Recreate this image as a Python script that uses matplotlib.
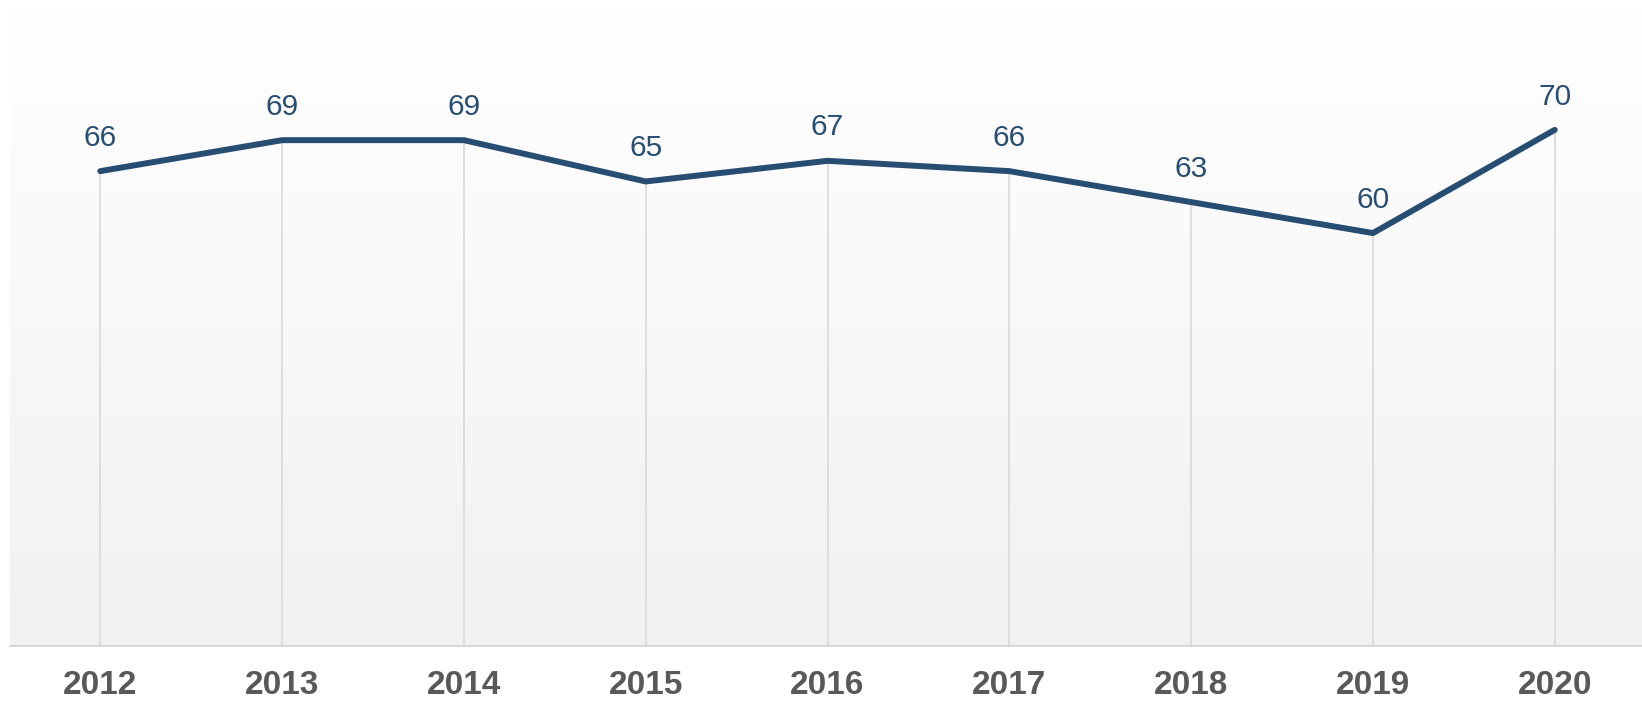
import matplotlib
matplotlib.use("Agg")
import matplotlib.pyplot as plt
import numpy as np
from matplotlib.colors import LinearSegmentedColormap

years = ["2012", "2013", "2014", "2015", "2016", "2017", "2018", "2019", "2020"]
values = [66, 69, 69, 65, 67, 66, 63, 60, 70]

plt.rcParams['font.family'] = ['Liberation Sans', 'DejaVu Sans']

fig = plt.figure(figsize=(16.42, 7.01), dpi=100)
ax = fig.add_axes([10/1642, 55/701, 1 - 10/1642, (646-7)/701])

x = np.arange(len(years))
ax.set_xlim(-0.497, 8.48)
ax.set_ylim(20, 81.9)

# gradient background
grad = np.linspace(0, 1, 256).reshape(-1, 1)
cmap = LinearSegmentedColormap.from_list("bg", ["#f1f1f1", "#f8f8f8", "#ffffff"])
ax.imshow(grad, extent=[0, 1, 0, 1], transform=ax.transAxes, aspect='auto',
          cmap=cmap, origin='lower', zorder=0)

ax.vlines(x, 20, values, colors="#d9d9d9", linewidth=1.2, zorder=1)
ax.plot(x, values, color="#284d73", linewidth=4.3, solid_capstyle='round',
        solid_joinstyle='round', zorder=3)

for xi, v in zip(x, values):
    ax.annotate(str(v), (xi, v), xytext=(0, 24), textcoords='offset points',
                ha='center', va='center', fontsize=21.5, color="#284d73")

for s in ['top', 'left', 'right']:
    ax.spines[s].set_visible(False)
ax.spines['bottom'].set_color('#d0d0d0')
ax.spines['bottom'].set_linewidth(1.2)

ax.set_xticks(x)
ax.set_xticklabels(years, fontsize=24, fontweight='bold', color='#595959')
ax.tick_params(axis='x', length=0, pad=17.5)
ax.set_yticks([])

fig.savefig("out.png", dpi=100, facecolor='white')
